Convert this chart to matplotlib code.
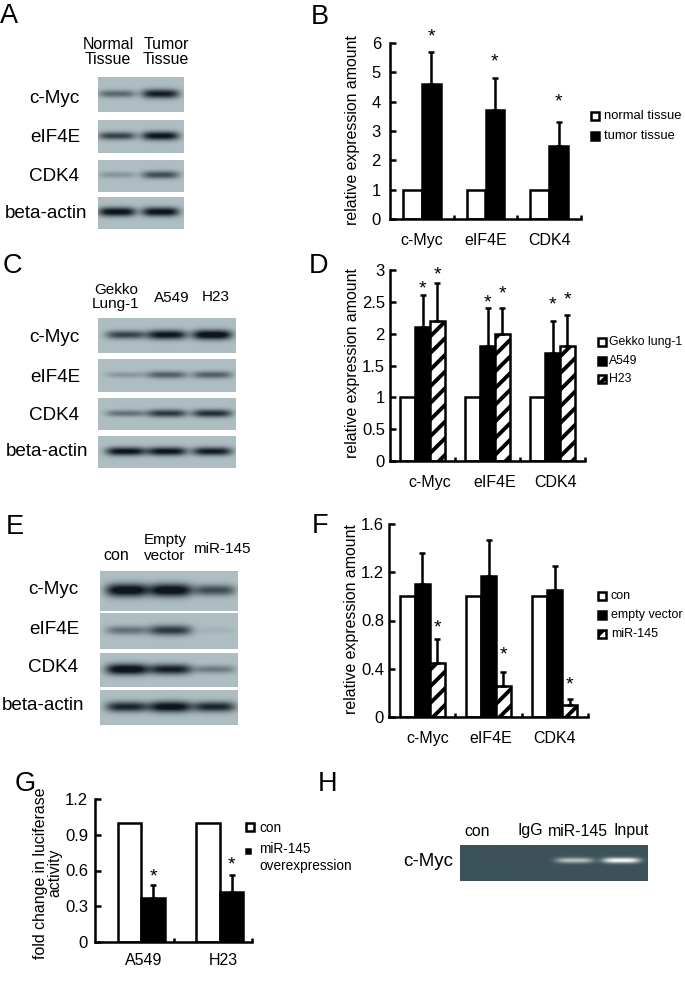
import matplotlib
matplotlib.use("Agg")
import matplotlib.pyplot as plt
from matplotlib.patches import Rectangle
import numpy as np

plt.rcParams['font.family'] = ['Liberation Sans', 'DejaVu Sans']
plt.rcParams['hatch.linewidth'] = 2.8

W, H = 685, 998
LW = 1.8

genes = ['c-Myc', 'eIF4E', 'CDK4']

# panel B
b_normal = [1, 1, 1]
b_tumor = [4.6, 3.7, 2.5]
b_tumor_err = [1.1, 1.1, 0.8]
b_stars = [6.44, 5.59, 4.23]

# panel D
d_gekko = [1, 1, 1]
d_a549 = [2.1, 1.8, 1.7]
d_h23 = [2.2, 2.0, 1.8]
d_a549_err = [0.5, 0.6, 0.5]
d_h23_err = [0.6, 0.4, 0.5]
d_stars_a549 = [2.81, 2.59, 2.56]
d_stars_h23 = [3.03, 2.72, 2.64]

# panel F
f_con = [1, 1, 1]
f_empty = [1.1, 1.17, 1.05]
f_mir = [0.45, 0.26, 0.1]
f_empty_err = [0.26, 0.3, 0.2]
f_mir_err = [0.2, 0.11, 0.05]
f_stars = [0.79, 0.57, 0.32]

# panel G
g_cells = ['A549', 'H23']
g_con = [1, 1]
g_mir = [0.37, 0.42]
g_mir_err = [0.11, 0.14]
g_stars = [0.60, 0.70]

# blot band strength per row, one value per lane
a_bands = [[0.45, 0.85], [0.65, 0.9], [0.22, 0.6], [0.95, 0.95]]
c_bands = [[0.65, 0.9, 1.0], [0.2, 0.5, 0.5], [0.4, 0.7, 0.75], [0.9, 0.9, 0.85]]
e_bands = [[1.0, 1.0, 0.6], [0.4, 0.7, 0.06], [1.0, 0.85, 0.35], [0.8, 0.95, 0.8]]
h_bands = [0.0, 0.0, 0.65, 1.0]


def px_axes(x0, y0, x1, y1):
    return fig.add_axes([x0 / W, 1 - y1 / H, (x1 - x0) / W, (y1 - y0) / H])


def draw_blot(rect, strengths, lanes, lane_w, band_h=0.12):
    ax = px_axes(*rect)
    w = int(rect[2] - rect[0])
    h = int(rect[3] - rect[1])
    xx, yy = np.meshgrid(np.linspace(0, 1, w), np.linspace(0, 1, h))
    bg = np.array([174, 190, 195]) / 255
    dark = np.array([12, 22, 28]) / 255
    d = np.zeros((h, w))
    for s, c in zip(strengths, lanes):
        gx = np.exp(-np.abs((xx - c) / (lane_w / 2)) ** 4)
        gy = np.exp(-((yy - 0.48) / (band_h * (0.7 + 0.5 * s))) ** 2)
        d += 1.15 * s * gx * gy
    d = np.clip(d, 0, 1)[..., None]
    img = bg * (1 - d) + dark * d
    ax.imshow(img, aspect='auto', interpolation='bilinear')
    ax.axis('off')


def style_axes(ax, yticks, yticklabels, labels, label_x=None, n=3, ypad=3.6):
    for side in ['top', 'right']:
        ax.spines[side].set_visible(False)
    for side in ['left', 'bottom']:
        ax.spines[side].set_linewidth(LW)
    ax.set_xlim(-0.5, n - 0.5)
    ax.set_ylim(yticks[0], yticks[-1])
    ax.set_yticks(yticks)
    ax.set_yticklabels(yticklabels, fontsize=12)
    ax.tick_params(axis='y', direction='in', length=4, width=LW, pad=ypad)
    ax.set_xticks(np.arange(n) if label_x is None else label_x)
    ax.set_xticklabels(labels, fontsize=11.5)
    ax.tick_params(axis='x', which='major', length=0, pad=10)
    ax.set_xticks(np.arange(n) + 0.5, minor=True)
    ax.tick_params(axis='x', which='minor', direction='in', length=3, width=LW)
    ax.patch.set_alpha(0)


def bar(ax, x, vals, width, kind, err=None):
    x = np.asarray(x, dtype=float)
    if kind == 'white':
        ax.bar(x, vals, width, color='white', edgecolor='black', linewidth=LW)
    elif kind == 'black':
        ax.bar(x, vals, width, color='black', edgecolor='black', linewidth=LW)
    else:
        ax.bar(x, vals, width, color='white', edgecolor='black', linewidth=LW, hatch='//')
    if err is not None:
        ax.errorbar(x, vals, yerr=[np.zeros(len(err)), err], fmt='none', ecolor='black',
                    elinewidth=LW, capsize=2.2, capthick=LW)


def stars(ax, x, ys):
    for xi, yi in zip(x, ys):
        ax.annotate('*', (xi, yi), xytext=(0, -8), textcoords='offset points', ha='center',
                    va='baseline', fontsize=14, annotation_clip=False)


fig = plt.figure(figsize=(W / 100, H / 100), dpi=100, facecolor='white')

# blots
a_lanes = [0.22, 0.73]
for rect, s in zip([(98, 77, 184, 112), (98, 120, 184, 153), (98, 160, 184, 192), (98, 197, 184, 229)], a_bands):
    draw_blot(rect, s, a_lanes, 0.44)
c_lanes = [0.2, 0.5, 0.83]
for rect, s in zip([(98, 318, 235, 353), (98, 359, 235, 392), (98, 398, 235, 430), (98, 436, 235, 468)], c_bands):
    draw_blot(rect, s, c_lanes, 0.29)
e_lanes = [0.195, 0.51, 0.83]
for rect, s in zip([(100, 571, 238, 611), (100, 613, 238, 649), (100, 653, 238, 687), (100, 690, 238, 725)], e_bands):
    draw_blot(rect, s, e_lanes, 0.31, band_h=0.14)

# gel in H, light bands on dark background
ax_h = px_axes(460, 845, 647, 881)
xx, yy = np.meshgrid(np.linspace(0, 1, 187), np.linspace(0, 1, 36))
gel = np.zeros((36, 187))
for s, c in zip(h_bands, [0.1, 0.37, 0.61, 0.86]):
    gel += s * np.exp(-np.abs((xx - c) / 0.1) ** 4) * np.exp(-((yy - 0.44) / 0.075) ** 2)
gel = np.clip(gel, 0, 1)[..., None]
ax_h.imshow(np.array([58, 82, 88]) / 255 * (1 - gel) + gel, aspect='auto', interpolation='bilinear')
ax_h.axis('off')

# B
ax_b = px_axes(390, 43, 581, 219)
x = np.arange(3)
w_b = 0.295
bar(ax_b, x - w_b / 2, b_normal, w_b, 'white')
bar(ax_b, x + w_b / 2, b_tumor, w_b, 'black', b_tumor_err)
stars(ax_b, x + w_b / 2, b_stars)
style_axes(ax_b, [0, 1, 2, 3, 4, 5, 6], ['0', '1', '2', '3', '4', '5', '6'], genes, ypad=6.5)

# D
ax_d = px_axes(390, 270, 585, 461)
w_d = 0.226
bar(ax_d, x - w_d, d_gekko, w_d, 'white')
bar(ax_d, x, d_a549, w_d, 'black', d_a549_err)
bar(ax_d, x + w_d, d_h23, w_d, 'hatch', d_h23_err)
stars(ax_d, x, d_stars_a549)
stars(ax_d, x + w_d, d_stars_h23)
style_axes(ax_d, [0, 0.5, 1, 1.5, 2, 2.5, 3], ['0', '0.5', '1', '1.5', '2', '2.5', '3'], genes,
           label_x=[0.11, 1.11, 2.04])

# F
ax_f = px_axes(389, 524, 588, 717)
w_f = 0.226
bar(ax_f, x - w_f, f_con, w_f, 'white')
bar(ax_f, x, f_empty, w_f, 'black', f_empty_err)
bar(ax_f, x + w_f, f_mir, w_f, 'hatch', f_mir_err)
stars(ax_f, x + w_f, f_stars)
style_axes(ax_f, [0, 0.4, 0.8, 1.2, 1.6], ['0', '0.4', '0.8', '1.2', '1.6'], genes,
           label_x=[0.08, 1.03, 2.0])

# G
ax_g = px_axes(95, 799, 252, 942)
xg = np.arange(2) + 0.09
w_g = 0.3
bar(ax_g, xg - w_g / 2, g_con, w_g, 'white')
bar(ax_g, xg + w_g / 2, g_mir, w_g, 'black', g_mir_err)
stars(ax_g, xg + w_g / 2, g_stars)
style_axes(ax_g, [0, 0.3, 0.6, 0.9, 1.2], ['0', '0.3', '0.6', '0.9', '1.2'], g_cells,
           label_x=[0.12, 1.14], n=2, ypad=5)
ax_g.tick_params(axis='x', which='major', pad=8)

# overlay for panel letters, lane labels and legends, in pixel units
ov = fig.add_axes([0, 0, 1, 1], zorder=10)
ov.set_xlim(0, W)
ov.set_ylim(H, 0)
ov.axis('off')


def label(x, y, s, size=11.4, **kw):
    kw.setdefault('ha', 'center')
    ov.text(x, y, s, fontsize=size, va='center', **kw)


for s, lx, ly in [('A', 9, 16), ('B', 320, 17), ('C', 12, 266), ('D', 319, 266),
                  ('E', 15, 527), ('F', 320, 526), ('G', 25, 784), ('H', 328, 784)]:
    label(lx, ly, s, size=19.5)

label(108, 52, 'Normal\nTissue', linespacing=1.05)
label(166, 52, 'Tumor\nTissue', linespacing=1.05)
label(116, 297, 'Gekko\nLung-1', size=11, linespacing=1.0)
label(172, 298, 'A549', size=11)
label(216, 297, 'H23', size=11)
label(116, 555, 'con', size=11.5)
label(165, 548, 'Empty\nvector', size=11, linespacing=1.15)
label(222, 549, 'miR-145', size=11)

row_names = ['c-Myc', 'eIF4E', 'CDK4', 'beta-actin']
for xs, ys in [([54, 55, 54, 46], [98, 137, 176, 213]),
               ([54, 55, 54, 47], [338, 377, 415, 452]),
               ([53, 54, 53, 43], [590, 629, 668, 706])]:
    for name, rx, ry in zip(row_names, xs, ys):
        label(rx, ry, name, size=13.6)

label(353, 130, 'relative expression amount', rotation=90)
label(353, 363, 'relative expression amount', rotation=90)
label(352, 619, 'relative expression amount', rotation=90)
label(48, 873, 'fold change in luciferase\nactivity', rotation=90, linespacing=0.95)

for s, lx in [('con', 477), ('IgG', 530), ('miR-145', 578), ('Input', 631)]:
    label(lx, 831, s, size=11.4)
label(428, 862, 'c-Myc', size=13.5)


def legend_box(cx, cy, kind, size=8):
    if kind == 'white':
        ov.add_patch(Rectangle((cx - size / 2, cy - size / 2), size, size, fc='white', ec='black', lw=LW))
    elif kind == 'black':
        ov.add_patch(Rectangle((cx - size / 2, cy - size / 2), size, size, fc='black', ec='black', lw=LW))
    else:
        ov.add_patch(Rectangle((cx - size / 2, cy - size / 2), size, size, fc='white', ec='black', lw=LW, hatch='//'))


legend_box(595.5, 116, 'white')
legend_box(595.5, 136, 'black')
label(604, 116, 'normal tissue', size=9.4, ha='left')
label(604, 136, 'tumor tissue', size=9.4, ha='left')

legend_box(602, 342, 'white')
legend_box(602, 361, 'black')
legend_box(602, 379, 'hatch')
label(609, 342, 'Gekko lung-1', size=8.8, ha='left')
label(609, 361, 'A549', size=8.8, ha='left')
label(609, 379, 'H23', size=8.8, ha='left')

legend_box(602.5, 596, 'white')
legend_box(602.5, 615, 'black')
legend_box(602.5, 634, 'hatch')
label(611, 596, 'con', size=9, ha='left')
label(611, 615, 'empty vector', size=9, ha='left')
label(611, 634, 'miR-145', size=9, ha='left')

legend_box(250, 827, 'white')
legend_box(248, 851, 'black', size=4)
label(259, 828, 'con', size=9.8, ha='left')
label(259, 849, 'miR-145', size=9.8, ha='left')
label(259, 866, 'overexpression', size=9.8, ha='left')

fig.savefig('out.png', dpi=100)
